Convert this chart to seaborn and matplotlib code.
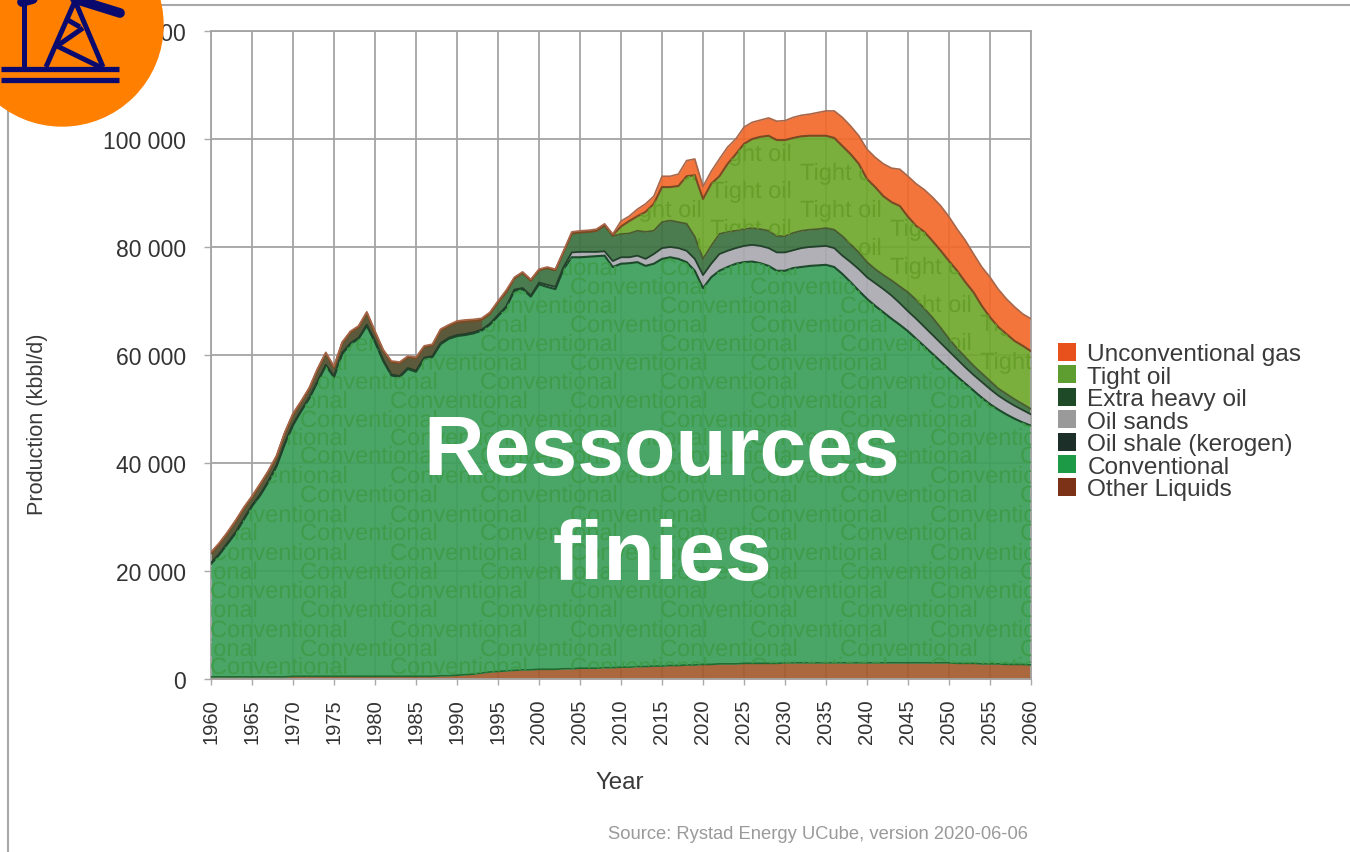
import numpy as np
import pandas as pd
import matplotlib
matplotlib.use('Agg')
import matplotlib.pyplot as plt
import matplotlib.patheffects as pe
import seaborn as sns
from matplotlib.patches import Circle, Patch
from matplotlib.ticker import FuncFormatter

# values, thousand bbl/d, top edge of each band
years = list(range(1960, 2061))

other_top = [0.4, 0.4, 0.4, 0.4, 0.4, 0.4, 0.4, 0.4, 0.4, 0.4,
             0.5, 0.5, 0.5, 0.5, 0.5, 0.5, 0.5, 0.5, 0.5, 0.5,
             0.5, 0.5, 0.5, 0.5, 0.5, 0.5, 0.5, 0.5, 0.6, 0.6,
             0.7, 0.8, 0.9, 1.1, 1.3, 1.4, 1.5, 1.6, 1.7, 1.7,
             1.8, 1.8, 1.8, 1.9, 1.9, 2.0, 2.0, 2.0, 2.1, 2.1,
             2.2, 2.2, 2.3, 2.3, 2.4, 2.4, 2.5, 2.5, 2.6, 2.6,
             2.7, 2.7, 2.8, 2.8, 2.8, 2.9, 2.9, 2.9, 2.9, 2.9,
             3.0, 3.0, 3.0, 3.0, 3.0, 3.0, 3.0, 3.0, 3.0, 3.0,
             3.0, 3.0, 3.0, 3.0, 3.0, 3.0, 3.0, 3.0, 3.0, 3.0,
             3.0, 2.9, 2.9, 2.9, 2.8, 2.8, 2.8, 2.7, 2.7, 2.7,
             2.6]

conventional_top = [21.3, 23, 25, 27, 29.5, 32, 34, 36.5, 39.4, 43.5,
                    47, 49.6, 52, 55, 58, 55.9, 60.2, 62, 63, 65.4,
                    62.4, 58.9, 56.2, 55.9, 57.4, 56.9, 59.3, 59.6, 62, 63,
                    63.5, 63.7, 64, 64.5, 65.6, 67.2, 68.8, 71.9, 72.2, 70.8,
                    73.1, 72.6, 72.2, 75.9, 78.1, 78.1, 78.2, 78.3, 78.4, 76.3,
                    76.9, 77, 77.2, 76.5, 76.9, 77.8, 78.1, 77.8, 77.2, 75.6,
                    72.4, 74.4, 75.6, 76.3, 76.9, 77.2, 77.3, 77, 76.5, 75.6,
                    75.6, 76.1, 76.3, 76.5, 76.6, 76.7, 76.3, 75, 73.5, 71.9,
                    70.4, 69.1, 67.9, 66.7, 65.6, 64.4, 63, 61.6, 60.2, 58.8,
                    57.4, 56, 54.7, 53.4, 52.1, 50.9, 49.9, 49, 48.2, 47.5,
                    46.9]

oil_shale = [0.2] * 101

sands_top = [21.5, 23.2, 25.2, 27.2, 29.7, 32.2, 34.2, 36.7, 39.6, 43.7,
             47.2, 49.8, 52.2, 55.2, 58.2, 56.1, 60.4, 62.2, 63.2, 65.6,
             62.6, 59.1, 56.4, 56.1, 57.6, 57.1, 59.5, 59.8, 62.2, 63.2,
             63.7, 63.9, 64.2, 64.7, 65.8, 67.4, 69, 72.1, 72.4, 71,
             73.4, 73, 72.6, 76.3, 79, 79.1, 79.1, 79.1, 79.2, 77.4,
             78.1, 78.1, 78.4, 77.8, 78.7, 79.8, 80, 79.8, 79.3, 77.8,
             74.8, 76.9, 78.7, 79.3, 79.8, 80.2, 80.4, 80.2, 79.8, 79,
             79, 79.4, 79.8, 80, 80.1, 80.2, 79.8, 78.4, 77.2, 75.9,
             74.4, 73.3, 72.2, 71, 69.6, 68.1, 66.7, 65.2, 63.7, 62.2,
             60.7, 59.2, 57.7, 56.3, 55, 53.7, 52.5, 51.5, 50.6, 49.8,
             49]

heavy_top = [23.3, 25, 27, 29.2, 31.6, 33.7, 36, 38.4, 41.2, 45.5,
             49, 51.3, 53.8, 57.3, 60.3, 57.7, 62.2, 64.2, 65.2, 67.8,
             64.2, 60.8, 58.7, 58.5, 59.6, 59.4, 61.5, 61.8, 64.6, 65.4,
             66, 66.2, 66.3, 66.5, 67.6, 69.8, 71.6, 74.2, 75.2, 73.8,
             75.7, 76.1, 75.7, 79.1, 82.5, 82.7, 82.8, 83, 84, 82,
             82.4, 82.5, 83, 82.8, 83, 84.6, 84.9, 84.6, 84.3, 81.9,
             77.8, 80.2, 82.4, 82.8, 83, 83.3, 83.5, 83.3, 83, 82,
             82, 82.6, 83, 83.2, 83.3, 83.5, 83.2, 82, 80.5, 79,
             77.2, 75.9, 74.8, 73.8, 72.7, 71.6, 70.2, 68.6, 66.9, 65,
             63, 61.2, 59.6, 58, 56.6, 55.2, 53.8, 52.8, 51.8, 50.9,
             50]

tight_top = [23.3, 25, 27, 29.2, 31.6, 33.7, 36, 38.4, 41.2, 45.5,
             49, 51.3, 53.8, 57.3, 60.3, 57.7, 62.2, 64.2, 65.2, 67.8,
             64.2, 60.8, 58.7, 58.5, 59.6, 59.4, 61.5, 61.8, 64.6, 65.4,
             66, 66.2, 66.3, 66.5, 67.6, 69.8, 71.6, 74.2, 75.2, 73.8,
             75.7, 76.1, 75.7, 79.1, 82.5, 82.7, 82.8, 83, 84, 82.2,
             83.8, 84.8, 85.7, 86.5, 88, 91.1, 91.1, 91.3, 93.1, 93.3,
             88.9, 91.7, 93.1, 95.4, 97.2, 99.1, 100, 100.4, 100.6, 99.8,
             99.8, 100.2, 100.5, 100.6, 100.6, 100.6, 100.2, 98.7, 97.2, 95.4,
             92.6, 91.1, 89.4, 88.3, 87.6, 85.6, 83.9, 82.8, 81.1, 79.3,
             77.4, 75.6, 73.5, 71.6, 69.1, 67, 65.2, 63.9, 62.6, 61.7,
             60.7]

gas_top = [23.5, 25.2, 27.2, 29.4, 31.8, 33.9, 36.2, 38.6, 41.4, 45.7,
           49.2, 51.5, 54, 57.5, 60.5, 57.9, 62.4, 64.4, 65.4, 68,
           64.4, 61, 58.9, 58.7, 59.8, 59.6, 61.7, 62, 64.8, 65.6,
           66.3, 66.5, 66.6, 66.8, 67.9, 70, 72, 74.4, 75.4, 74,
           75.9, 76.3, 75.9, 79.3, 82.8, 83, 83.1, 83.3, 84.3, 82.4,
           84.8, 85.7, 87, 88, 89.4, 93.1, 93.1, 93.5, 96, 96.3,
           91.2, 94, 96.3, 98.5, 100, 102.2, 103.1, 103.5, 103.9, 103.3,
           103.4, 104, 104.4, 104.6, 104.9, 105.2, 105.2, 104, 102.4, 100.6,
           98.1, 96.6, 95.4, 94.6, 94.4, 93.1, 91.7, 90.6, 89.2, 87.6,
           85.6, 83.3, 81.2, 78.7, 76.3, 74.4, 72.2, 70.4, 68.9, 67.6,
           66.7]

series_names = ['Other Liquids', 'Conventional', 'Oil shale (kerogen)', 'Oil sands',
                'Extra heavy oil', 'Tight oil', 'Unconventional gas']
fill_colors = ['#a45a2c', '#3a9f5a', '#1e3a2a', '#aaa9b0', '#3c7140', '#6fa82c', '#f2692a']
legend_colors = ['#7c3216', '#1c9a46', '#1c2f28', '#9a9a9a', '#1f4a28', '#5e9e30', '#e8501c']

FIG_W, FIG_H = 1350, 853


def fig_xy(x, y):
    return x / FIG_W, 1 - y / FIG_H


def watermark(label, x, y, color, poly):
    # path effect makes agg draw the glyphs as paths, so the band clip applies
    t = fig.text(*fig_xy(x, y), label, fontsize=17, color=color, ha='left', va='center', zorder=4,
                 path_effects=[pe.Normal()])
    t.set_clip_path(poly.get_paths()[0], poly.get_transform())
    t.set_clip_on(True)


sns.set_theme(style='whitegrid')
plt.rcParams['font.family'] = ['Liberation Sans', 'DejaVu Sans']

fig = plt.figure(figsize=(13.5, 8.53), dpi=100, facecolor='white')
ax = fig.add_axes([211 / FIG_W, 1 - 680 / FIG_H, 820 / FIG_W, 648 / FIG_H])

df = pd.DataFrame({'year': years, 'other': other_top, 'conv': conventional_top, 'shale': oil_shale,
                   'sands': sands_top, 'heavy': heavy_top, 'tight': tight_top, 'gas': gas_top})
for col in ['other', 'conv', 'shale', 'sands', 'heavy', 'tight', 'gas']:
    df[col] = df[col] * 1000

layers = [df['other'],
          df['conv'] - df['other'],
          df['shale'],
          (df['sands'] - df['conv'] - df['shale']).clip(lower=0),
          df['heavy'] - df['sands'],
          df['tight'] - df['heavy'],
          df['gas'] - df['tight']]

polys = ax.stackplot(df['year'], *layers, colors=fill_colors, alpha=0.92, linewidth=0, zorder=2)

# the early part of the heavy oil band reads brown in the original
early = df[df['year'] <= 1993]
ax.fill_between(early['year'], early['sands'], early['heavy'], color='#5c5a3c', linewidth=0, zorder=2.5)

# dark outlines between the bands
for col, color, lw in [('other', '#1e6a30', 1.2), ('conv', '#1c4a2a', 1.5), ('sands', '#22402a', 1.3),
                       ('heavy', '#4a5c30', 1.3), ('tight', '#7a4a22', 1.5), ('gas', '#a8674a', 1.2)]:
    sns.lineplot(data=df, x='year', y=col, ax=ax, color=color, linewidth=lw, zorder=3, legend=False)

ax.set_xlim(1960, 2060)
ax.set_ylim(0, 120000)
ax.set_xticks(range(1960, 2061, 5))
ax.set_yticks(range(0, 120001, 20000))
ax.yaxis.set_major_formatter(FuncFormatter(lambda v, p: f'{int(v):,}'.replace(',', ' ')))
ax.set_axisbelow(True)
ax.grid(True, color='#a4a4a4', linewidth=1.3)
for s in ax.spines.values():
    s.set_color('#a4a4a4')
    s.set_linewidth(1.3)
ax.tick_params(axis='y', length=5, width=1, color='#aaaaaa', pad=13, labelsize=16.5, labelcolor='#333333', left=True)
ax.tick_params(axis='x', length=4, width=1, color='#aaaaaa', pad=10, labelsize=14.5, labelcolor='#333333',
               rotation=90, bottom=True)

ax.set_xlabel('Year', fontsize=17.4, color='#3a3a3a')
ax.set_ylabel('Production (kbbl/d)', fontsize=15.6, color='#3a3a3a')
ax.xaxis.set_label_coords(620 / FIG_W, 1 - 772 / FIG_H, transform=fig.transFigure)
ax.yaxis.set_label_coords(48 / FIG_W, 1 - 424 / FIG_H, transform=fig.transFigure)

# faint repeated labels inside the bands
row_y = [270, 289, 308, 327, 346, 365, 384, 403, 422, 440, 458, 478, 497, 517, 535, 555, 574, 593, 612, 632, 651, 669]
for i, y in enumerate(row_y):
    start = 300 if i % 2 == 0 else 210
    for x in range(start - 180, 1100, 180):
        watermark('Conventional', x, y, '#3f9c4a', polys[1])

for i, y in enumerate([156, 175, 193, 212, 231, 250, 269, 288, 307, 326, 345, 364, 383]):
    start = 710 if i % 2 == 0 else 620
    for x in range(start - 180, 1100, 180):
        watermark('Tight oil', x, y, '#679e2a', polys[5])

handles = [Patch(facecolor=c, edgecolor='none', label=n) for c, n in zip(legend_colors, series_names)]
leg = fig.legend(handles=handles[::-1], loc='upper left', bbox_to_anchor=fig_xy(1058, 344), frameon=False,
                 fontsize=17.6, labelspacing=0.0, handlelength=0.75, handleheight=0.75, handletextpad=0.45,
                 borderpad=0, borderaxespad=0, labelcolor='#3a3a3a')

fig.text(*fig_xy(1028, 835), 'Source: Rystad Energy UCube, version 2020-06-06', fontsize=13.2,
         color='#9a9a9a', ha='right', va='center')

# slide layer on top: frame, logo, big caption
over = fig.add_axes([0, 0, 1, 1], zorder=10)
over.set_xlim(0, FIG_W)
over.set_ylim(FIG_H, 0)
over.axis('off')
over.patch.set_alpha(0)
over.plot([8, 1350], [6, 6], color='#a8a8a8', lw=1.5)
over.plot([8, 8], [6, 853], color='#a8a8a8', lw=1.5)
over.add_patch(Circle((62, 26), 101, color='#ff8000', zorder=5))
navy = '#0a0a6e'
icon = [([1, 119], [70, 70], 3.8), ([1, 119], [81, 81], 3.8), ([24, 24], [0, 68], 3.6),
        ([46, 75], [68, 2], 3.6), ([103, 75], [68, 2], 3.6), ([57, 100], [47, 68], 3.6),
        ([57, 83], [47, 29], 3.6), ([66, 80], [20, 28], 3.6), ([75, 120], [0, 14], 7), ([22, 40], [3, -2], 7)]
for xs, ys, lw in icon:
    over.plot(xs, ys, color=navy, lw=lw, solid_capstyle='round' if lw > 5 else 'butt', zorder=6)

over.text(662, 453, 'Ressources', fontsize=60.5, fontweight='bold', color='white', ha='center', va='center', zorder=7)
over.text(662, 558, 'finies', fontsize=60.5, fontweight='bold', color='white', ha='center', va='center', zorder=7)

fig.savefig('out.png', dpi=100)
